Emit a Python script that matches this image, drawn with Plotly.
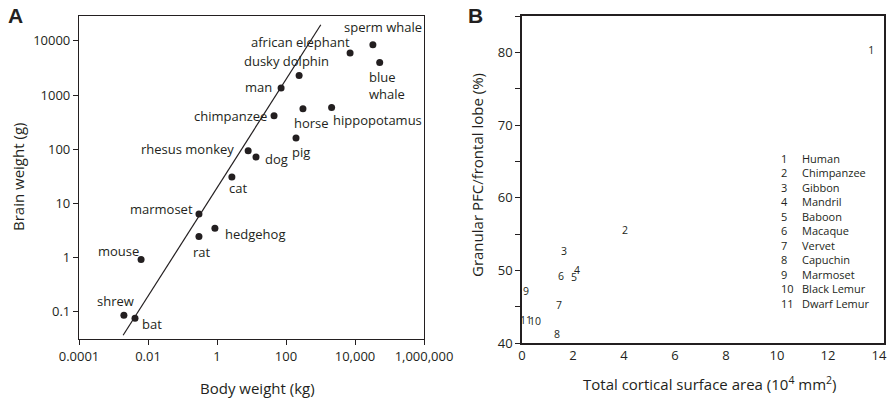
import math
import plotly.graph_objects as go

# ---------------- Panel A data ----------------
animals = ["sperm whale", "african elephant", "blue whale", "dusky dolphin", "man",
           "chimpanzee", "horse", "hippopotamus", "pig", "rhesus monkey", "dog",
           "cat", "marmoset", "hedgehog", "rat", "mouse", "shrew", "bat"]
body_kg = [33000, 7200, 52000, 240, 72, 45, 310, 2100, 195, 8, 13.5,
           2.7, 0.3, 0.87, 0.3, 0.0063, 0.002, 0.0042]
brain_g = [8500, 6000, 3980, 2300, 1350, 415, 560, 590, 162, 94, 72,
           31, 6.4, 3.5, 2.45, 0.93, 0.087, 0.076]
fit_x = [0.0019, 1020]
fit_y = [0.037, 19900]

a_xtick_vals = [0.0001, 0.01, 1, 100, 10000, 1000000]
a_xtick_text = ["0.0001", "0.01", "1", "100", "10,000", "1,000,000"]
a_ytick_vals = [0.1, 1, 10, 100, 1000, 10000]
a_ytick_text = ["0.1", "1", "10", "100", "1000", "10000"]

# ---------------- Panel B data ----------------
species_num = ["1", "2", "3", "4", "5", "6", "7", "8", "9", "10", "11"]
species = ["Human", "Chimpanzee", "Gibbon", "Mandril", "Baboon", "Macaque",
           "Vervet", "Capuchin", "Marmoset", "Black Lemur", "Dwarf Lemur"]
surface = [13.7, 4.04, 1.65, 2.16, 2.04, 1.53, 1.45, 1.37, 0.16, 0.51, 0.16]
pfc_pct = [80.2, 55.4, 52.5, 49.9, 48.9, 49.0, 45.1, 41.0, 47.0, 42.8, 43.0]

b_ytick_vals = [40, 45, 50, 55, 60, 65, 70, 75, 80, 85]
b_ytick_text = ["40", " ", "50", " ", "60", " ", "70", " ", "80", " "]
b_xtick_vals = [0, 2, 4, 6, 8, 10, 12, 14]

# ---------------- styling ----------------
W, H = 889, 399
INK = "#231f20"
FONT = "Open Sans"

# label placement (pixel offsets from point): (anchor, dx, dy)
label_pos = {
    "sperm whale": ("center", 10, -18),
    "african elephant": ("center", -50, -11),
    "blue whale": ("left", -13, 23),
    "dusky dolphin": ("center", -13, -15),
    "man": ("right", -7, -1),
    "chimpanzee": ("right", -5, 0),
    "horse": ("center", 9, 14),
    "hippopotamus": ("left", -1, 12),
    "pig": ("center", 5, 14),
    "rhesus monkey": ("right", -12, -2),
    "dog": ("left", 7, 2),
    "cat": ("center", 6, 11),
    "marmoset": ("right", -4, -5),
    "hedgehog": ("left", 8, 6),
    "rat": ("center", 3, 15),
    "mouse": ("right", 0, -8),
    "shrew": ("center", -8, -14),
    "bat": ("left", 5, 6),
}


def px(x):
    return x / W


def py(y):
    return 1 - y / H


fig = go.Figure()

fig.add_trace(go.Scatter(x=fit_x, y=fit_y, mode="lines",
                         line=dict(color=INK, width=1.2),
                         xaxis="x", yaxis="y", showlegend=False))
fig.add_trace(go.Scatter(x=body_kg, y=brain_g, mode="markers",
                         marker=dict(color=INK, size=7),
                         xaxis="x", yaxis="y", showlegend=False))

fig.add_trace(go.Scatter(x=surface, y=pfc_pct, mode="text", text=species_num,
                         textfont=dict(family=FONT, size=10.5, color=INK),
                         textposition="middle center",
                         xaxis="x2", yaxis="y2", showlegend=False))

annotations = []
for name, bx, by in zip(animals, body_kg, brain_g):
    anchor, dx, dy = label_pos[name]
    text = "blue<br>whale" if name == "blue whale" else name
    annotations.append(dict(
        x=math.log10(bx), y=math.log10(by), xref="x", yref="y",
        text=text, showarrow=False, xanchor=anchor, yanchor="middle",
        align="left", xshift=dx, yshift=-dy,
        font=dict(family=FONT, size=13, color=INK)))

# legend list for panel B (in data coords)
for i, (n, s) in enumerate(zip(species_num, species)):
    yv = 65.44 - 2.0 * i
    annotations.append(dict(x=10.08, y=yv, xref="x2", yref="y2", text=n,
                            showarrow=False, xanchor="left", yanchor="middle",
                            font=dict(family=FONT, size=11, color=INK)))
    annotations.append(dict(x=10.92, y=yv, xref="x2", yref="y2", text=s,
                            showarrow=False, xanchor="left", yanchor="middle",
                            font=dict(family=FONT, size=11, color=INK)))

# panel letters and axis titles
annotations += [
    dict(x=px(15), y=py(15.5), xref="paper", yref="paper", text="<b>A</b>",
         showarrow=False, xanchor="center", yanchor="middle",
         font=dict(family="Liberation Sans", size=21, color=INK)),
    dict(x=px(475), y=py(15.5), xref="paper", yref="paper", text="<b>B</b>",
         showarrow=False, xanchor="center", yanchor="middle",
         font=dict(family="Liberation Sans", size=21, color=INK)),
    dict(x=px(257), y=py(388), xref="paper", yref="paper", text="Body weight (kg)",
         showarrow=False, xanchor="center", yanchor="middle",
         font=dict(family=FONT, size=15, color=INK)),
    dict(x=px(18), y=py(177), xref="paper", yref="paper", text="Brain weight (g)",
         showarrow=False, xanchor="center", yanchor="middle", textangle=-90,
         font=dict(family=FONT, size=15, color=INK)),
    dict(x=px(710), y=py(383), xref="paper", yref="paper",
         text="Total cortical surface area (10<sup>4</sup> mm<sup>2</sup>)",
         showarrow=False, xanchor="center", yanchor="middle",
         font=dict(family=FONT, size=15, color=INK)),
    dict(x=px(477), y=py(175), xref="paper", yref="paper",
         text="Granular PFC/frontal lobe (%)",
         showarrow=False, xanchor="center", yanchor="middle", textangle=-90,
         font=dict(family=FONT, size=15, color=INK)),
]

tickfont = dict(family=FONT, size=13, color=INK)
axis_common = dict(showgrid=False, zeroline=False, showline=True, mirror=True,
                   linecolor=INK, tickcolor=INK, tickfont=tickfont,
                   ticklen=5, tickwidth=1.2, automargin=False)

fig.update_layout(
    width=W, height=H,
    margin=dict(l=0, r=0, t=0, b=0, autoexpand=False),
    paper_bgcolor="white", plot_bgcolor="white",
    showlegend=False,
    xaxis=dict(domain=[px(79), px(424)], type="log", range=[-4, 6],
               tickmode="array", tickvals=a_xtick_vals, ticktext=a_xtick_text,
               ticks="outside", linewidth=1.2, anchor="y", **axis_common),
    yaxis=dict(domain=[py(339), py(16)], type="log", range=[-1.5, 4.46],
               tickmode="array", tickvals=a_ytick_vals, ticktext=a_ytick_text,
               ticks="outside", linewidth=1.2, anchor="x", **axis_common),
    xaxis2=dict(domain=[px(522), px(884)], range=[0, 14.2],
                tickmode="array", tickvals=b_xtick_vals,
                ticks="", linewidth=1.6, anchor="y2", **axis_common),
    yaxis2=dict(domain=[py(343), py(16)], range=[40, 85],
                tickmode="array", tickvals=b_ytick_vals, ticktext=b_ytick_text,
                ticks="outside", linewidth=1.6, anchor="x2", **axis_common),
    annotations=annotations,
)

fig.write_html("out.html",
               config={"displayModeBar": False},
               post_script="document.body.style.margin='0';"
                           "document.body.style.overflow='hidden';")
